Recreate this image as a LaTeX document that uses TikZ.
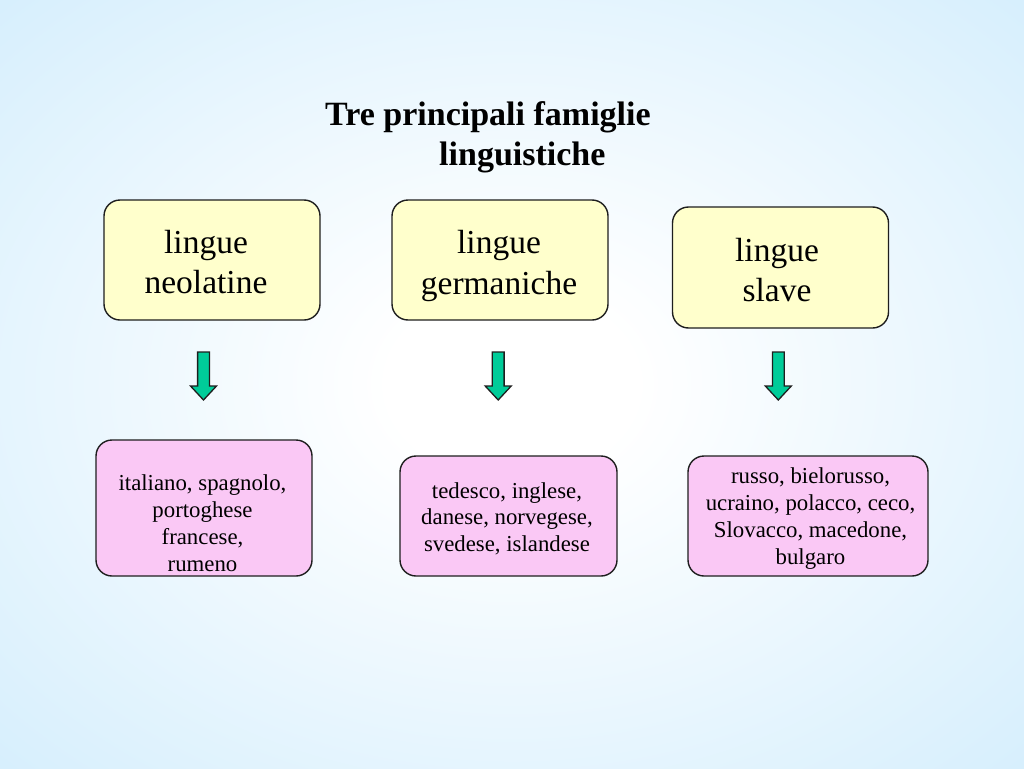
\documentclass[tikz,border=0pt]{standalone}
\usepackage{fontspec}
\setmainfont{Liberation Serif}
\definecolor{bgblue}{RGB}{200,233,252}
\definecolor{ybox}{RGB}{255,255,204}
\definecolor{pbox}{RGB}{250,200,245}
\definecolor{agreen}{RGB}{0,204,153}
\definecolor{edge}{RGB}{30,30,30}
\pgfdeclareradialshading{bgshade}{\pgfpoint{0bp}{0bp}}{color(0bp)=(white); color(6bp)=(white); color(46bp)=(bgblue); color(50bp)=(bgblue)}
\begin{document}
\begin{tikzpicture}[x=1pt,y=-1pt,
  famigliabox/.style={draw=edge, line width=1.4pt, rounded corners=16pt, fill=ybox, minimum width=216pt, minimum height=120pt, inner sep=0pt},
  linguebox/.style={draw=edge, line width=1.4pt, rounded corners=16pt, fill=pbox, minimum height=120pt, inner sep=0pt},
  bigtext/.style={inner sep=0pt, align=center, font=\fontsize{33.5}{40.5}\selectfont},
  smalltext/.style={inner sep=0pt, align=center, font=\fontsize{22.8}{26.9}\selectfont},
  downarrow/.pic={\draw[draw=edge, line width=1.3pt, fill=agreen, line join=miter]
     (-5.9,0) -- (5.9,0) -- (5.9,34) -- (13,34) -- (0,48) -- (-13,34) -- (-5.9,34) -- cycle;}
]
\useasboundingbox (0,0) rectangle (1024,768);
\shade[shading=bgshade] (0,0) rectangle (1024,768);

% title
\node[anchor=north west, inner sep=0pt, align=left, font=\bfseries\fontsize{34}{40}\selectfont] (title) at (325,101.5)
  {Tre principali famiglie\\\hspace*{114pt}linguistiche};

% family boxes
\node[famigliabox] (f1) at (212,260) {};
\node[famigliabox] (f2) at (500,260) {};
\node[famigliabox, minimum height=121pt] (f3) at (780.5,267.5) {};
\node[bigtext] (f1t) at (206,262.2) {lingue\\neolatine};
\node[bigtext] (f2t) at (499,265.8) {lingue\\germaniche};
\node[bigtext] (f3t) at (777,270.2) {lingue\\slave};

% language boxes
\node[linguebox, minimum width=216pt, minimum height=136pt] (l1) at (204,508) {};
\node[linguebox, minimum width=217pt, minimum height=120pt] (l2) at (508.5,516) {};
\node[linguebox, minimum width=240pt, minimum height=120pt] (l3) at (808,516) {};
\node[smalltext] (l1t) at (202.5,523.5) {italiano, spagnolo,\\portoghese\\francese,\\rumeno};
\node[smalltext] (l2t) at (507,518.8) {tedesco, inglese,\\danese, norvegese,\\svedese, islandese};
\node[smalltext] (l3t) at (810.5,518.5) {russo, bielorusso,\\ucraino, polacco, ceco,\\Slovacco, macedone,\\bulgaro};

% arrows
\coordinate (a1) at (203.5,352);
\coordinate (a2) at (498.2,352);
\coordinate (a3) at (778.3,352);
\pic at (a1) {downarrow};
\pic at (a2) {downarrow};
\pic at (a3) {downarrow};
\end{tikzpicture}
\end{document}
